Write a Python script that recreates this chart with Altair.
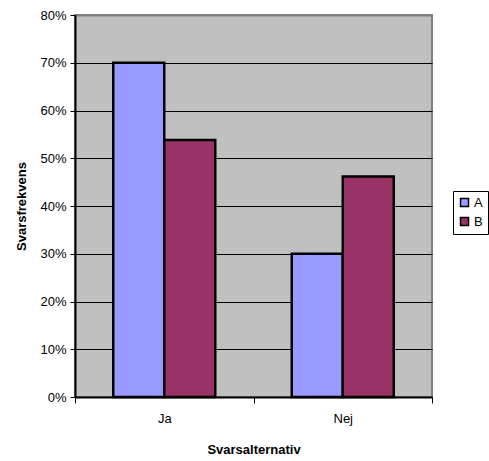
import altair as alt
import pandas as pd

# Response options and the share of each group choosing them
categories = ["Ja", "Nej"]
series = ["A", "B"]
values_a = [0.70, 0.30]
values_b = [0.538, 0.462]
colors = ["#9999FF", "#993366"]

rows = []
for cat, va, vb in zip(categories, values_a, values_b):
    rows.append({"Svarsalternativ": cat, "Grupp": "A", "Andel": va})
    rows.append({"Svarsalternativ": cat, "Grupp": "B", "Andel": vb})
df = pd.DataFrame(rows)

FONT = "Liberation Sans"

bars = alt.Chart(df).mark_bar(stroke="black", strokeWidth=2.5).encode(
    x=alt.X(
        "Svarsalternativ:N",
        sort=categories,
        scale=alt.Scale(paddingInner=0, paddingOuter=0),
        axis=alt.Axis(
            title="Svarsalternativ",
            labelAngle=0,
            tickBand="extent",
            domainColor="black",
            domainWidth=2,
            tickColor="black",
            tickSize=6,
            tickWidth=1,
            labelPadding=9,
            titlePadding=18,
            labelFontSize=13,
            titleFontSize=13,
            titleFontWeight="bold",
            labelFont=FONT,
            titleFont=FONT,
            labelColor="black",
            titleColor="black",
        ),
    ),
    xOffset=alt.XOffset(
        "Grupp:N",
        sort=series,
        scale=alt.Scale(paddingInner=0, paddingOuter=0.75),
    ),
    y=alt.Y(
        "Andel:Q",
        scale=alt.Scale(domain=[0, 0.8], nice=False),
        axis=alt.Axis(
            title="Svarsfrekvens",
            format=".0%",
            values=[0, 0.1, 0.2, 0.3, 0.4, 0.5, 0.6, 0.7, 0.8],
            grid=True,
            gridColor=alt.condition("datum.value >= 0.8", alt.value("#808080"), alt.value("black")),
            gridWidth=alt.condition("datum.value >= 0.8", alt.value(2), alt.value(1)),
            domainColor="black",
            domainWidth=2,
            tickColor="black",
            tickSize=5,
            labelPadding=4,
            titlePadding=11,
            labelFontSize=13,
            titleFontSize=13,
            titleFontWeight="bold",
            labelFont=FONT,
            titleFont=FONT,
            labelColor="black",
            titleColor="black",
        ),
    ),
    color=alt.Color(
        "Grupp:N",
        sort=series,
        scale=alt.Scale(domain=series, range=colors),
        legend=alt.Legend(
            title=None,
            orient="none",
            legendX=378,
            legendY=176,
            symbolType="square",
            symbolSize=64,
            symbolStrokeColor="black",
            symbolStrokeWidth=1.5,
            symbolOpacity=1,
            labelFontSize=13,
            labelFont=FONT,
            labelColor="black",
            labelOffset=3,
            rowPadding=4,
            padding=5,
            fillColor="white",
            strokeColor="black",
        ),
    ),
)

chart = bars.properties(
    width=357,
    height=382,
    padding={"left": 75, "top": 15, "right": 57, "bottom": 64},
    autosize=alt.AutoSizeParams(type="none"),
    background="white",
).configure_view(
    fill="#C0C0C0",
    stroke="#808080",
    strokeWidth=2,
)

chart.save("out.html", embed_options={"renderer": "svg", "actions": False})
